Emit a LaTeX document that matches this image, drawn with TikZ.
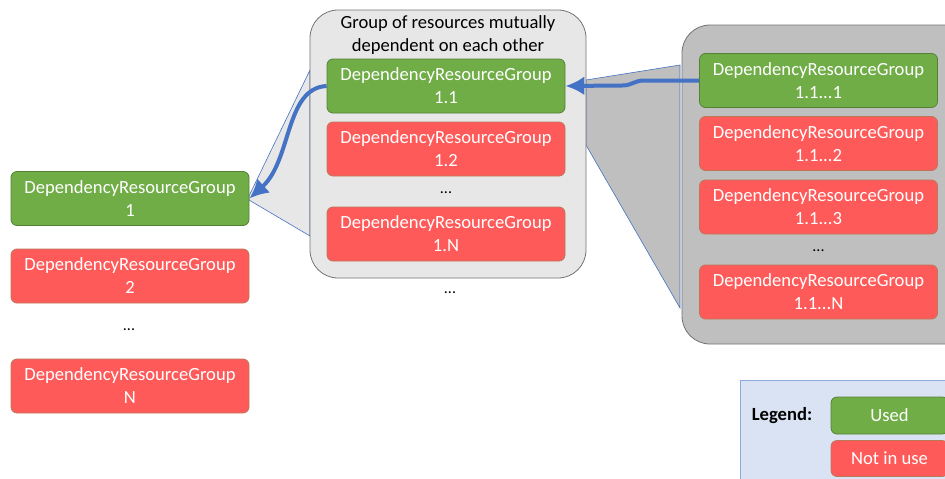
\documentclass[tikz,border=0pt]{standalone}
\usepackage{fontspec}
\setmainfont{Carlito}
\usetikzlibrary{arrows.meta}
\usetikzlibrary{positioning}
\definecolor{usedfill}{HTML}{70AD47}
\definecolor{usedline}{HTML}{548235}
\definecolor{idlefill}{HTML}{FF5A5A}
\definecolor{idleline}{HTML}{B9785A}
\definecolor{depblue}{HTML}{4472C4}
\definecolor{grplight}{HTML}{E7E7E7}
\definecolor{grpdark}{HTML}{BFBFBF}
\definecolor{legfill}{HTML}{DAE3F3}
\definecolor{legline}{HTML}{8EA9DB}
\tikzset{
    drg/.style = {rounded corners=6pt,minimum width=238pt,minimum height=54pt,inner sep=0pt,text=white,align=center,font=\fontsize{18.6}{23}\selectfont,line width=0.8pt},
    used/.style = {drg,fill=usedfill,draw=usedline},
    idle/.style = {drg,fill=idlefill,draw=idleline},
    dots/.style = {font=\fontsize{16}{18}\selectfont},
    grp/.style = {rounded corners=28pt,draw=black!55,line width=0.8pt},
    dep/.style = {draw=depblue,line width=4pt,-{Latex[length=19pt,width=19pt]}},
    zoomedge/.style = {draw=depblue,line width=0.6pt}
}
\begin{document}
\begin{tikzpicture}[x=1pt,y=-1pt]
        \clip (0,0) rectangle (945,479);
        % Callouts
        \filldraw[zoomedge,fill=grplight] (249,196) -- (310,70) -- (310,236) -- (249,200) -- cycle;
        \filldraw[zoomedge,fill=grpdark] (586,80) -- (680,65) -- (680,308) -- (586,145) -- cycle;
        % Groups
        \draw[grp,fill=grplight] (310,10) rectangle (586,278);
        \draw[grp,fill=grpdark] (682,25) rectangle (975,344);
        \node[align=center,font=\fontsize{18.6}{23}\selectfont] (title) at (448,35) {Group of resources mutually\\dependent on each other};
        % Top level
        \node[used] (l1) at (130,198.5) {DependencyResourceGroup\\1};
        \node[idle] (l2) at (130,276) {DependencyResourceGroup\\2};
        \node[dots] (ldots) at (129,330) {...};
        \node[idle] (ln) at (130,386) {DependencyResourceGroup\\N};
        % Mutual group
        \node[used] (m1) at (446,86) {DependencyResourceGroup\\1.1};
        \node[idle] (m2) at (446,149) {DependencyResourceGroup\\1.2};
        \node[dots] (mdots) at (446,193) {...};
        \node[idle] (mn) at (446,234) {DependencyResourceGroup\\1.N};
        \node[dots] (mdotsout) at (450,293) {...};
        % Sub group
        \node[used] (s1) at (818.5,80.5) {DependencyResourceGroup\\1.1...1};
        \node[idle] (s2) at (818.5,143.5) {DependencyResourceGroup\\1.1...2};
        \node[idle] (s3) at (818.5,207) {DependencyResourceGroup\\1.1...3};
        \node[dots] (sdots) at (818.5,251) {...};
        \node[idle] (sn) at (818.5,292) {DependencyResourceGroup\\1.1...N};
        % Dependencies
        \draw[dep] (s1.west) -- ++(-55,0) .. controls +(-10,0) and +(10,0) .. ++(-22,5) -- (m1.east);
        \draw[dep] (m1.west) .. controls (285,88) and (292,160) .. (l1.east);
        % Legend
        \draw[legline,fill=legfill,line width=0.8pt] (740,380) rectangle (975,495);
        \node[font=\fontsize{18.6}{23}\selectfont\bfseries] (legtitle) at (782,416) {Legend:};
        \node[used,minimum width=117pt,minimum height=37pt] (legused) at (889.5,415.5) {Used};
        \node[idle,minimum width=117pt,minimum height=36pt] (legidle) at (889.5,458.5) {Not in use};
\end{tikzpicture}
\end{document}
